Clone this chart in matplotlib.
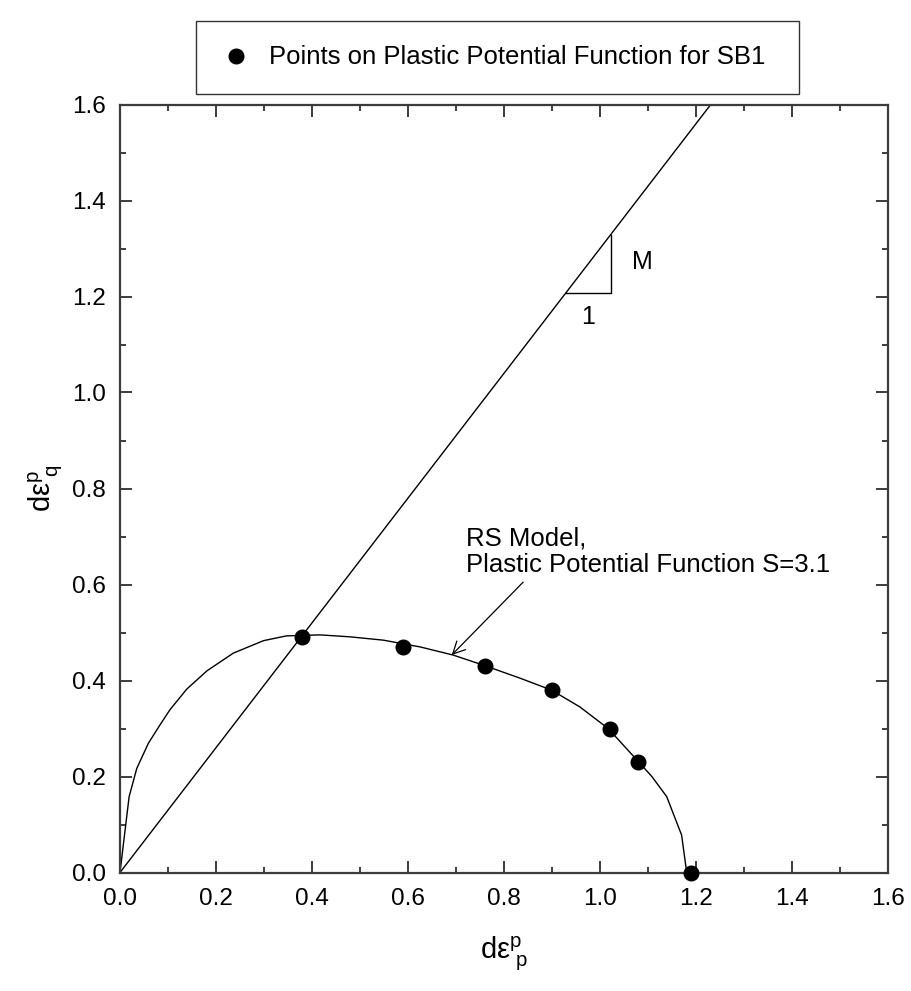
import matplotlib
matplotlib.use("Agg")
import matplotlib.pyplot as plt
from matplotlib.ticker import MultipleLocator, FormatStrFormatter

plt.rcParams['font.family'] = ['Liberation Sans', 'DejaVu Sans']
plt.rcParams['mathtext.fontset'] = 'custom'
plt.rcParams['mathtext.rm'] = 'Liberation Sans'
plt.rcParams['mathtext.it'] = 'Liberation Sans'

# Data points on plastic potential function (SB1)
pts_x = [0.38, 0.59, 0.76, 0.90, 1.02, 1.08, 1.19]
pts_y = [0.49, 0.47, 0.43, 0.38, 0.30, 0.23, 0.00]

# RS model plastic potential curve (S=3.1)
curve_x = [0.0, 0.019, 0.035, 0.059, 0.083, 0.104, 0.139, 0.181, 0.236, 0.299, 0.347,
           0.417, 0.479, 0.549, 0.625, 0.694, 0.757, 0.833, 0.899, 0.958, 1.017,
           1.080, 1.108, 1.139, 1.170, 1.179, 1.181]
curve_y = [0.0, 0.158, 0.217, 0.269, 0.307, 0.339, 0.382, 0.420, 0.457, 0.483, 0.493,
           0.495, 0.491, 0.484, 0.470, 0.453, 0.432, 0.405, 0.380, 0.345, 0.300,
           0.231, 0.200, 0.158, 0.078, 0.012, 0.0]

# Critical state line slope M
M = 1.30
line_x = [0.0, 1.6]
line_y = [0.0, 1.6 * M]

# Slope triangle (run 1 -> rise M)
tri_x = [0.929, 1.022, 1.022]
tri_y = [0.929 * M, 0.929 * M, 1.022 * M]

fig = plt.figure(figsize=(9.12, 9.91), dpi=100)
L, R, T, B = 120, 888, 104.5, 872.5
ax = fig.add_axes([L/912, 1 - B/991, (R-L)/912, (B-T)/991])

ax.plot(line_x, line_y, color='black', lw=1.0)
ax.plot(tri_x, tri_y, color='black', lw=1.0)
ax.plot(curve_x, curve_y, color='black', lw=1.0)
ax.plot(pts_x, pts_y, 'o', color='black', ms=10.5, clip_on=False, zorder=5,
        label='Points on Plastic Potential Function for SB1')

ax.text(1.0875, 1.272, 'M', fontsize=18, ha='center', va='center')
ax.text(0.975, 1.157, '1', fontsize=18, ha='center', va='center')

ax.text(0.72, 0.668, 'RS Model,\nPlastic Potential Function S=3.1', fontsize=18.5,
        ha='left', va='center', linespacing=1.1)
ax.annotate('', xy=(0.691, 0.453), xytext=(0.84, 0.605),
            arrowprops=dict(arrowstyle='->', lw=0.9, color='black', mutation_scale=22,
                            shrinkA=0, shrinkB=0))

ax.set_xlim(0, 1.6)
ax.set_ylim(0, 1.6)
ax.xaxis.set_major_locator(MultipleLocator(0.2))
ax.yaxis.set_major_locator(MultipleLocator(0.2))
ax.xaxis.set_minor_locator(MultipleLocator(0.1))
ax.yaxis.set_minor_locator(MultipleLocator(0.1))
ax.xaxis.set_major_formatter(FormatStrFormatter('%.1f'))
ax.yaxis.set_major_formatter(FormatStrFormatter('%.1f'))
ax.tick_params(which='both', direction='in', top=True, right=True, color='#3c3c3c', width=1.4)
ax.tick_params(which='major', length=8.6, labelsize=17.5)
ax.tick_params(which='minor', length=4.3)
ax.tick_params(axis='x', which='major', pad=11)
ax.tick_params(axis='y', which='major', pad=10)
for s in ax.spines.values():
    s.set_color('#3c3c3c')
    s.set_linewidth(1.6)

ax.set_xlabel(r'$\mathregular{d\epsilon^{p}_{\ p}}$', fontsize=21, labelpad=18)
ax.set_ylabel(r'$\mathregular{d\epsilon^{p}_{\ q}}$', fontsize=21, labelpad=5)

leg = ax.legend(loc='center', bbox_to_anchor=(196/912, 1 - 95/991, (799-196)/912, 75/991),
                bbox_transform=fig.transFigure, mode='expand', fancybox=False,
                edgecolor='black', fontsize=18.5, borderpad=0.95, handletextpad=0.68,
                handlelength=1.2, borderaxespad=0)
leg.get_frame().set_linewidth(1.0)

fig.savefig('out.png', dpi=100)
